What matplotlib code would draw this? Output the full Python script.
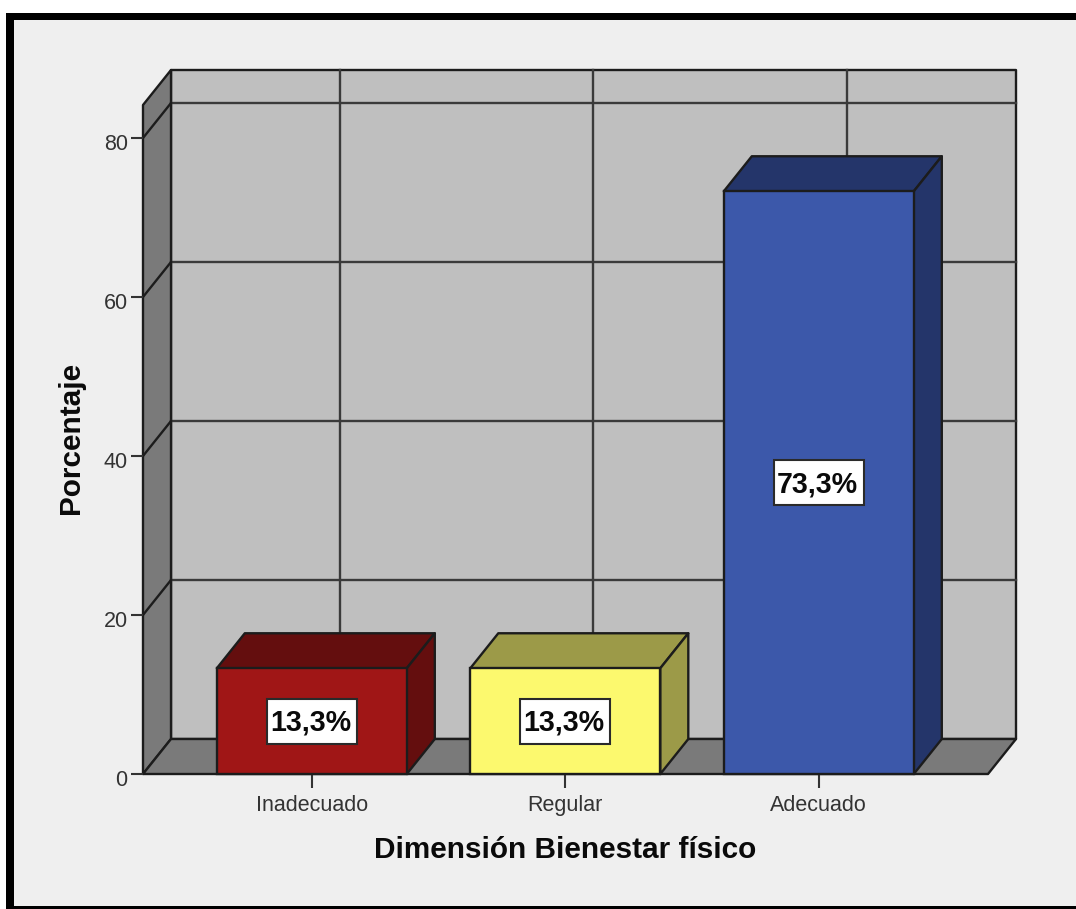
import matplotlib
matplotlib.use("Agg")
import matplotlib.pyplot as plt
from matplotlib.patches import Rectangle, Polygon
from matplotlib.transforms import Affine2D

categories = ["Inadecuado", "Regular", "Adecuado"]
percentages = [13.3, 13.3, 73.3]
value_labels = ["13,3%", "13,3%", "73,3%"]
y_ticks = [0, 20, 40, 60, 80]
front_colors = ["#a01616", "#fcf96e", "#3c58aa"]
dark_colors = ["#640e0e", "#9c9a48", "#24356a"]

W, H = 1076, 909
plt.rcParams["font.family"] = ["Liberation Sans", "DejaVu Sans"]
fig = plt.figure(figsize=(W / 100, H / 100), dpi=100, facecolor="white")


def fig_rect(x0, y0, x1, y1, color):
    fig.patches.append(Rectangle((x0 / W, 1 - y1 / H), (x1 - x0) / W, (y1 - y0) / H,
                                 transform=fig.transFigure, facecolor=color,
                                 edgecolor="none", zorder=-5))


fig_rect(6, 13, W, H, "black")
fig_rect(14, 20, W, 906, "#efefef")

# Axes = the front plane of the 3D box
px_l, px_r, px_top, px_bot = 143, 988, 105, 774
ax = fig.add_axes([px_l / W, 1 - px_bot / H, (px_r - px_l) / W, (px_bot - px_top) / H])
ppx = 253.5   # pixels per category
ppy = 7.95    # pixels per percent
first_center = 311.8
ax.set_xlim((px_l - first_center) / ppx, (px_r - first_center) / ppx)
ax.set_ylim(0, (px_bot - px_top) / ppy)
ax.patch.set_visible(False)
for s in ax.spines.values():
    s.set_visible(False)

dx, dy = 28 / ppx, 35 / ppy       # depth of the box and bars
xl, xr = ax.get_xlim()
yt = ax.get_ylim()[1]
EDGE = "#1c1c1c"
GRID = "#3a3a3a"
LW = 1.7


def poly(pts, fc, z):
    ax.add_patch(Polygon(pts, closed=True, facecolor=fc, edgecolor=EDGE,
                         linewidth=LW, zorder=z, clip_on=False, joinstyle="round"))


poly([(xl + dx, dy), (xr + dx, dy), (xr + dx, yt + dy), (xl + dx, yt + dy)], "#bfbfbf", 1)
poly([(xl, 0), (xl + dx, dy), (xl + dx, yt + dy), (xl, yt)], "#7a7a7a", 1.1)
poly([(xl, 0), (xr, 0), (xr + dx, dy), (xl + dx, dy)], "#7a7a7a", 1.1)

for v in y_ticks[1:]:
    ax.plot([xl + dx, xr + dx], [v + dy, v + dy], color=GRID, lw=LW, zorder=1.5, clip_on=False)
    ax.plot([xl, xl + dx], [v, v + dy], color=EDGE, lw=LW, zorder=1.5, clip_on=False)
for i in range(len(categories)):
    ax.plot([i + dx, i + dx], [dy, yt + dy], color=GRID, lw=LW, zorder=1.5, clip_on=False)

bar_w = 190 / ppx
box_w, box_h = 90 / ppx, 45 / ppy
label_shift = Affine2D().translate(-1, 1.5)
for i, (v, fc, dc, lab) in enumerate(zip(percentages, front_colors, dark_colors, value_labels)):
    x0, x1 = i - bar_w / 2, i + bar_w / 2
    poly([(x0, v), (x1, v), (x1 + dx, v + dy), (x0 + dx, v + dy)], dc, 3)
    poly([(x1, 0), (x1 + dx, dy), (x1 + dx, v + dy), (x1, v)], dc, 3)
    ax.bar(i, v, width=bar_w, color=fc, edgecolor=EDGE, linewidth=LW, zorder=4, clip_on=False)
    ax.add_patch(Rectangle((i - box_w / 2, v / 2 - box_h / 2), box_w, box_h, facecolor="white",
                           edgecolor="#2a2a2a", linewidth=1.5, zorder=5))
    ax.text(i, v / 2, lab, ha="center", va="center_baseline", fontsize=20.6, fontweight="bold",
            color="#0a0a0a", zorder=6, transform=ax.transData + label_shift)

ax.set_xticks(range(len(categories)), categories)
ax.set_yticks(y_ticks)
ax.tick_params(axis="x", length=10, width=1.5, color="#333333", labelsize=15.5,
               labelcolor="#333333", pad=5)
ax.tick_params(axis="y", length=9, width=1.5, color="#333333", labelsize=15.5,
               labelcolor="#333333", pad=2)
for t in ax.xaxis.get_major_ticks() + ax.yaxis.get_major_ticks():
    t.tick1line.set_zorder(2)
for label in ax.get_yticklabels():
    label.set_transform(label.get_transform() + Affine2D().translate(0, -4))

fig.text(565 / W, 1 - 850 / H, "Dimensión Bienestar físico", ha="center", va="center",
         fontsize=21.4, fontweight="bold", color="#0a0a0a")
fig.text(71 / W, 1 - 438 / H, "Porcentaje", ha="center", va="center", rotation=90,
         fontsize=21.4, fontweight="bold", color="#0a0a0a")

fig.savefig("out.png", dpi=100, facecolor=fig.get_facecolor())
